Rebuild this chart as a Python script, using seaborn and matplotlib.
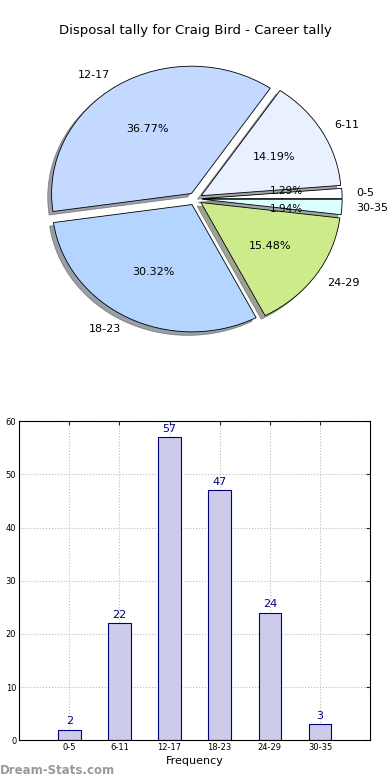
import matplotlib
matplotlib.use("Agg")
import matplotlib.pyplot as plt
import pandas as pd
import seaborn as sns

# data
groups = ["0-5", "6-11", "12-17", "18-23", "24-29", "30-35"]
counts = [2, 22, 57, 47, 24, 3]
pie_colors = ["#ffffff", "#e9f0ff", "#c4d9ff", "#b4d5ff", "#cdeb8b", "#d9ffff"]

sns.set_style("white")
plt.rcParams["font.family"] = ["DejaVu Sans"]
plt.rcParams["text.color"] = "black"

fig = plt.figure(figsize=(3.9, 7.8), dpi=100)
fig.text(0.5, 0.961, "Disposal tally for Craig Bird - Career tally",
         ha="center", va="center", fontsize=9.5)

# pie (stretched a bit, like the old non-equal-aspect look)
ax1 = fig.add_axes([0.052, 0.541, 0.897, 0.408])
wedges, texts, autotexts = ax1.pie(
    counts, labels=groups, colors=pie_colors, autopct="%.2f%%",
    explode=[0.05] * len(counts), shadow=True, startangle=0,
    wedgeprops={"edgecolor": "black", "linewidth": 0.6},
    textprops={"fontsize": 8, "color": "black"})
ax1.set_aspect("auto")
ax1.set_xlim(-1.25, 1.25)
ax1.set_ylim(-1.25, 1.25)

# the two thin slices put their percentages almost on top of each other
autotexts[0].set_va("bottom")
autotexts[5].set_va("top")
for t in (autotexts[0], autotexts[5]):
    t.set_fontsize(7.5)

# bars
df = pd.DataFrame({"group": groups, "count": counts})
ax2 = fig.add_axes([0.049, 0.051, 0.9, 0.409])
sns.barplot(data=df, x="group", y="count", ax=ax2, width=0.45,
            color="#ccccea", edgecolor="navy", linewidth=0.8, saturation=1)
ax2.bar_label(ax2.containers[0], color="navy", fontsize=8, padding=2.5)
ax2.set_xlim(-1, 6)
ax2.set_ylim(0, 60)
ax2.set_xlabel("Frequency", fontsize=8, labelpad=3, color="black")
ax2.set_ylabel("")
ax2.tick_params(labelsize=6, direction="in", length=3, top=True, right=True,
                pad=2, labelcolor="black")
ax2.grid(True, linestyle=":", color="#bbbbbb", linewidth=0.8)
ax2.set_axisbelow(True)
for s in ax2.spines.values():
    s.set_color("black")
    s.set_linewidth(0.8)

fig.text(0.0, 0.004, "Dream-Stats.com", color="#999999", fontsize=8.5,
         fontweight="bold", ha="left", va="bottom")

fig.savefig("out.png", dpi=100)
